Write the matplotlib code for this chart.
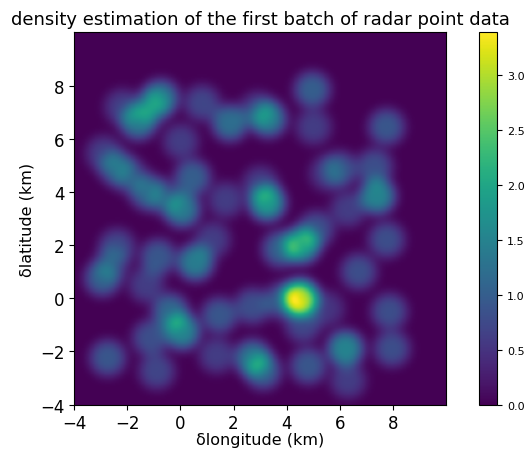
import numpy as np
import matplotlib
matplotlib.use('Agg')
import matplotlib.pyplot as plt

# radar points (km offsets) and their kernel weights
px = [-0.75, -1.1, -1.6, -2.2, 0.8, 1.85, 3.3, 2.9, 4.95, 5.0, 7.75, 0.0, -2.9, -2.4, -1.9,
      -1.25, 0.45, 0.05, -0.6, 1.7, 3.25, 3.0, 6.0, 5.5, 7.3, 7.4, 6.3, -2.4, -2.95, -2.6,
      -0.85, 0.55, 1.2, -1.3, -0.4, 0.05, -1.15, 1.45, 2.7, -2.75, -0.9, 1.35, 2.7, 3.1,
      4.5, 3.8, 4.55, 3.75, 5.1, 7.75, 6.7, 7.85, 7.95, 6.2, 4.8, 6.3, 4.6, 5.5]
py = [7.55, 7.2, 6.65, 7.2, 7.35, 6.6, 6.75, 7.1, 7.85, 6.45, 6.45, 5.9, 5.45, 4.9, 4.6,
      4.0, 4.55, 3.35, 3.8, 3.7, 3.6, 4.3, 4.85, 4.7, 4.95, 3.85, 3.35, 1.95, 0.75, 1.3,
      1.55, 1.35, 2.2, 0.5, -0.5, -1.25, -1.5, -0.65, -0.3, -2.25, -2.75, -2.15, -2.25, -2.75,
      0.0, -0.1, 2.0, 1.85, 2.6, 2.2, 1.0, -0.5, -1.9, -1.9, -2.55, -3.1, -1.0, -0.4]
pw = [1.25, 0.75, 1.3, 0.6, 0.7, 1.2, 1.3, 0.6, 1.0, 0.6, 0.9, 0.6, 0.6, 0.9, 0.6,
      1.0, 1.0, 1.35, 0.6, 0.6, 1.75, 0.6, 0.8, 0.5, 0.8, 1.5, 0.6, 0.7, 1.0, 0.5,
      0.9, 1.4, 0.6, 0.6, 1.1, 1.5, 0.8, 0.9, 0.8, 0.9, 0.7, 0.6, 1.25, 1.0,
      2.9, 0.8, 1.8, 1.0, 0.8, 0.8, 0.8, 0.8, 0.8, 1.5, 0.9, 0.6, 0.7, 0.5]

bw = 0.68
xs = np.linspace(-4, 10, 300)
ys = np.linspace(-4, 10, 300)
X, Y = np.meshgrid(xs, ys)
Z = np.zeros_like(X)
for x0, y0, w in zip(px, py, pw):
    r = np.sqrt((X-x0)**2 + (Y-y0)**2)
    Z += w*np.exp(-(r/bw)**3)

fig = plt.figure(figsize=(5.25, 4.52), dpi=100)
ax = fig.add_axes([0.141, 0.102, 0.709, 0.825])
im = ax.imshow(Z, origin='lower', extent=[-4, 10, -4, 10], cmap='viridis')
ax.set_xticks([-4, -2, 0, 2, 4, 6, 8])
ax.set_yticks([-4, -2, 0, 2, 4, 6, 8])
ax.tick_params(labelsize=12)
ax.set_xlabel('δlongitude (km)', fontsize=11.5, labelpad=0)
ax.set_ylabel('δlatitude (km)', fontsize=11.5)
ax.set_title('density estimation of the first batch of radar point data', fontsize=13)
cax = fig.add_axes([0.912, 0.102, 0.035, 0.825])
cb = fig.colorbar(im, cax=cax)
cb.ax.tick_params(labelsize=8)
fig.savefig('out.png', dpi=100)
